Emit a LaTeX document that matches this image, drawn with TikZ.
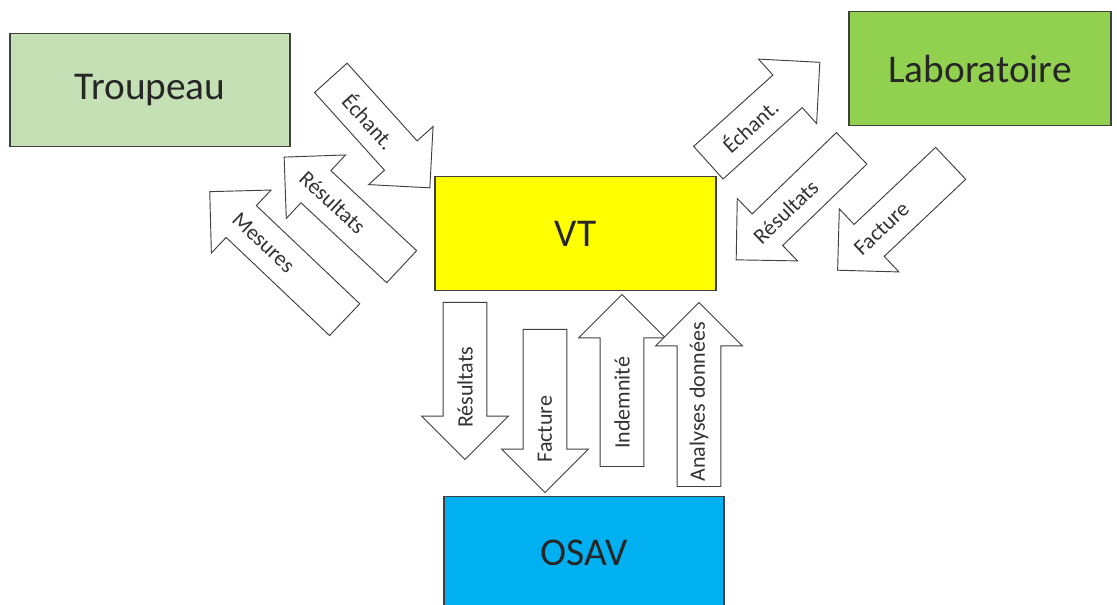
\documentclass[tikz,border=0pt]{standalone}
\usepackage{fontspec}
\setmainfont{Carlito}
\usetikzlibrary{shapes.arrows,calc}
\definecolor{herdGreen}{HTML}{C5E0B4}
\definecolor{labGreen}{HTML}{92D050}
\definecolor{vtYellow}{HTML}{FFFF00}
\definecolor{osavBlue}{HTML}{00B0F0}
\colorlet{lineGray}{black!75}

\begin{document}
\begin{tikzpicture}[
    x=0.75pt, y=-0.75pt,
    box/.style={
        rectangle,
        draw=lineGray,
        line width=0.9pt,
        text=black!85,
        font=\fontsize{29.5}{35}\selectfont,
        minimum width=210pt,
        minimum height=85pt,
      },
    barrow/.style={
        single arrow,
        draw=lineGray,
        fill=white,
        line width=0.7pt,
        inner xsep=0pt,
        inner ysep=16.1pt,
        single arrow head extend=16.1pt,
        anchor=tail,
      },
    lbl/.style={font=\fontsize{16.5}{20}\selectfont, text=black!80, inner sep=0pt},
  ]
  \useasboundingbox (0,0) rectangle (1117,605);

  % the four actors
  \node[box, fill=herdGreen] (herd) at (150,90) {Troupeau};
  \node[box, fill=labGreen, minimum width=196.5pt] (lab) at (980,68.5) {Laboratoire};
  \node[box, fill=vtYellow, minimum width=210.75pt] (vt) at (575.5,233.5) {VT};
  \node[box, fill=osavBlue] (osav) at (584,553) {OSAV};

  % troupeau <-> VT
  \node[barrow, rotate=-48, minimum height=111pt] (herdEch) at (330.5,77.5) {};
  \node[barrow, rotate=137, minimum height=120.5pt] (herdRes) at (402,267) {};
  \node[barrow, rotate=136.5, minimum height=139.5pt] (herdMes) at (345,320) {};
  \node[lbl, rotate=-48] (herdEchT) at ($(herdEch.tail)!.39!(herdEch.tip)$) {Échant.};
  \node[lbl, rotate=-43] (herdResT) at ($(herdRes.tail)!.585!(herdRes.tip)$) {Résultats};
  \node[lbl, rotate=-43.5] (herdMesT) at ($(herdMes.tail)!.6!(herdMes.tip)$) {Mesures};

  % VT <-> laboratoire
  \node[barrow, rotate=42, minimum height=112.5pt] (labEch) at (708,163) {};
  \node[barrow, rotate=-136, minimum height=120.4pt] (labRes) at (852,148) {};
  \node[barrow, rotate=-136.6, minimum height=116.7pt] (labFac) at (951,163) {};
  \node[lbl, rotate=42] (labEchT) at ($(labEch.tail)!.37!(labEch.tip)$) {Échant.};
  \node[lbl, rotate=44] (labResT) at ($(labRes.tail)!.57!(labRes.tip)$) {Résultats};
  \node[lbl, rotate=43.4] (labFacT) at ($(labFac.tail)!.61!(labFac.tip)$) {Facture};

  % VT <-> OSAV
  \node[barrow, rotate=-90, minimum height=117.75pt] (osavRes) at (465,302) {};
  \node[barrow, rotate=-90, minimum height=122.25pt] (osavFac) at (545,329) {};
  \node[barrow, rotate=90, minimum height=129pt] (osavInd) at (622,467) {};
  \node[barrow, rotate=90, minimum height=138pt] (osavAna) at (699,487) {};
  \node[lbl, rotate=90] (osavResT) at ($(osavRes.tail)!.54!(osavRes.tip)$) {Résultats};
  \node[lbl, rotate=90] (osavFacT) at ($(osavFac.tail)!.61!(osavFac.tip)$) {Facture};
  \node[lbl, rotate=90] (osavIndT) at ($(osavInd.tail)!.37!(osavInd.tip)$) {Indemnité};
  \node[lbl, rotate=90] (osavAnaT) at ($(osavAna.tail)!.46!(osavAna.tip)$) {Analyses données};
\end{tikzpicture}
\end{document}
